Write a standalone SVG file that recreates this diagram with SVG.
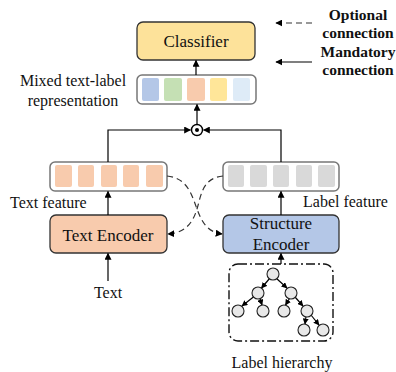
<svg xmlns="http://www.w3.org/2000/svg" width="396" height="372" viewBox="0 0 396 372">
<defs>
<marker id="ah" viewBox="0 0 10 10" refX="9" refY="5" markerWidth="7" markerHeight="7" markerUnits="userSpaceOnUse" orient="auto">
<path d="M0,0 L10,5 L0,10 z" fill="#000"/>
</marker>
<marker id="ahs" viewBox="0 0 10 10" refX="9" refY="5" markerWidth="6" markerHeight="6" markerUnits="userSpaceOnUse" orient="auto">
<path d="M0,0 L10,5 L0,10 z" fill="#000"/>
</marker>
</defs>
<style>
.t{font-family:"Liberation Serif","Times New Roman",serif;fill:#111;}
.l{font-size:16px;}
.b{font-size:17px;}
.lg{font-size:15.5px;font-weight:bold;}
.box{stroke:#333;stroke-width:1.3;}
.vec{fill:#fff;stroke:#777;stroke-width:1.5;}
.ln{stroke:#000;stroke-width:1.2;fill:none;}
.dash{stroke:#333;stroke-width:1.2;fill:none;stroke-dasharray:6,4;}
.nd{fill:#e8e8e8;stroke:#222;stroke-width:1.1;}
</style>

<g id="legend">
<line class="dash" x1="312" y1="23" x2="276" y2="23" marker-end="url(#ah)"/>
<line class="ln" x1="312" y1="62" x2="276" y2="62" marker-end="url(#ah)"/>
<text class="t lg" x="358" y="20" text-anchor="middle">Optional</text>
<text class="t lg" x="358" y="38" text-anchor="middle">connection</text>
<text class="t lg" x="358" y="57" text-anchor="middle">Mandatory</text>
<text class="t lg" x="358" y="75" text-anchor="middle">connection</text>
</g>

<g id="classifier">
<rect class="box" x="137" y="22" width="118" height="38" rx="6" fill="#fde29a"/>
<text class="t b" x="196" y="47" text-anchor="middle">Classifier</text>
</g>

<g id="mixed">
<rect class="vec" x="137" y="75" width="119" height="29" rx="5"/>
<rect x="142" y="78" width="17" height="23" rx="2" fill="#b4c7e7"/>
<rect x="164" y="78" width="18" height="23" rx="2" fill="#c5e0b4"/>
<rect x="187" y="78" width="18" height="23" rx="2" fill="#f8cbad"/>
<rect x="210" y="78" width="17" height="23" rx="2" fill="#ffe699"/>
<rect x="233" y="78" width="17" height="23" rx="2" fill="#deebf7"/>
<text class="t l" x="73" y="86" text-anchor="middle">Mixed text-label</text>
<text class="t l" x="73" y="106" text-anchor="middle">representation</text>
</g>

<g id="odot">
<circle cx="197" cy="130" r="5.5" fill="#fff" stroke="#000" stroke-width="1.4"/>
<circle cx="197" cy="130" r="2" fill="#000"/>
</g>

<g id="text-feature">
<rect class="vec" x="50" y="162" width="117" height="29" rx="5"/>
<rect x="55" y="165" width="17" height="22" rx="2" fill="#f8cbad"/>
<rect x="78" y="165" width="16" height="22" rx="2" fill="#f8cbad"/>
<rect x="101" y="165" width="16" height="22" rx="2" fill="#f8cbad"/>
<rect x="123" y="165" width="16" height="22" rx="2" fill="#f8cbad"/>
<rect x="146" y="165" width="17" height="22" rx="2" fill="#f8cbad"/>
<text class="t l" x="10" y="208">Text feature</text>
</g>

<g id="label-feature">
<rect class="vec" x="223" y="162" width="116" height="29" rx="5"/>
<rect x="228" y="165" width="16" height="22" rx="2" fill="#d9d9d9"/>
<rect x="250" y="165" width="17" height="22" rx="2" fill="#d9d9d9"/>
<rect x="273" y="165" width="16" height="22" rx="2" fill="#d9d9d9"/>
<rect x="296" y="165" width="16" height="22" rx="2" fill="#d9d9d9"/>
<rect x="318" y="165" width="17" height="22" rx="2" fill="#d9d9d9"/>
<text class="t l" x="303" y="207">Label feature</text>
</g>

<g id="text-encoder">
<rect class="box" x="50" y="215" width="117" height="38" rx="6" fill="#f8cbad"/>
<text class="t b" x="108" y="241" text-anchor="middle">Text Encoder</text>
</g>

<g id="structure-encoder">
<rect class="box" x="223" y="215" width="116" height="38" rx="6" fill="#b4c7e7"/>
<text class="t b" x="281" y="229" text-anchor="middle">Structure</text>
<text class="t b" x="281" y="250" text-anchor="middle">Encoder</text>
</g>

<g id="text-input">
<text class="t l" x="108" y="298" text-anchor="middle">Text</text>
</g>

<g id="label-hierarchy">
<rect x="229" y="264" width="104" height="77" rx="9" fill="none" stroke="#111" stroke-width="1.4" stroke-dasharray="9,3,2,3"/>
<g class="tree-edges">
<line class="ln" x1="270" y1="278" x2="261.5" y2="288" marker-end="url(#ahs)"/>
<line class="ln" x1="276" y1="278" x2="287" y2="288" marker-end="url(#ahs)"/>
<line class="ln" x1="254" y1="296.5" x2="242" y2="306" marker-end="url(#ahs)"/>
<line class="ln" x1="260" y1="298.5" x2="262" y2="305" marker-end="url(#ahs)"/>
<line class="ln" x1="289.5" y1="298.5" x2="285.5" y2="305" marker-end="url(#ahs)"/>
<line class="ln" x1="295" y1="297" x2="303" y2="306" marker-end="url(#ahs)"/>
<line class="ln" x1="306" y1="316.5" x2="305" y2="324" marker-end="url(#ahs)"/>
<line class="ln" x1="311" y1="315" x2="319" y2="325" marker-end="url(#ahs)"/>
</g>
<circle class="nd" cx="273" cy="274" r="6"/>
<circle class="nd" cx="258" cy="293" r="6"/>
<circle class="nd" cx="291" cy="293" r="6"/>
<circle class="nd" cx="238" cy="311" r="6"/>
<circle class="nd" cx="263" cy="311" r="6"/>
<circle class="nd" cx="284" cy="311" r="6"/>
<circle class="nd" cx="307" cy="311" r="6"/>
<circle class="nd" cx="304" cy="330" r="6"/>
<circle class="nd" cx="323" cy="330" r="6"/>
<text class="t l" x="282" y="368" text-anchor="middle">Label hierarchy</text>
</g>

<g id="connectors">
<line class="ln" x1="196" y1="75" x2="196" y2="60.5" marker-end="url(#ah)"/>
<line class="ln" x1="197" y1="124.5" x2="197" y2="104.5" marker-end="url(#ah)"/>
<polyline class="ln" points="108,162 108,130 190.5,130" marker-end="url(#ah)"/>
<polyline class="ln" points="281,162 281,130 203.5,130" marker-end="url(#ah)"/>
<line class="ln" x1="108" y1="215" x2="108" y2="191.5" marker-end="url(#ah)"/>
<line class="ln" x1="281" y1="215" x2="281" y2="191.5" marker-end="url(#ah)"/>
<line class="ln" x1="108" y1="281" x2="108" y2="253.5" marker-end="url(#ah)"/>
<line class="ln" x1="281" y1="264" x2="281" y2="253.5" marker-end="url(#ah)"/>
<path class="dash" d="M167,176 C188,178 192,196 197,209 C202,222 207,232 222,234" marker-end="url(#ah)"/>
<path class="dash" d="M223,176 C202,178 201,196 197,209 C193,222 186,233 168,234" marker-end="url(#ah)"/>
</g>
</svg>
